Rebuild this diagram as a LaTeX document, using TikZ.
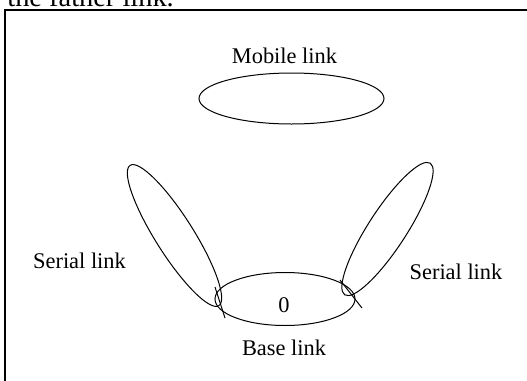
\documentclass[tikz,border=0pt]{standalone}
\usepackage{fontspec}
\setmainfont{Liberation Serif}
\usetikzlibrary{shapes.geometric}
\begin{document}
\begin{tikzpicture}[x=0.5pt,y=-0.5pt,
    link/.style={draw,ellipse,inner sep=0pt,line width=0.5pt},
    lbl/.style={inner sep=0pt,anchor=base,font=\fontsize{11.2}{13}\selectfont}]
  \useasboundingbox (0,0) rectangle (527,381);
  \draw[line width=1pt] (5,10) rectangle (545,400);
  \node[lbl,anchor=base west,font=\fontsize{14.2}{17}\selectfont] (father) at (7,6) {the father link.};
  \draw
    (291.5,98.5) node[link,minimum width=92.5pt,minimum height=25.5pt] (mobile){}
    (285,299) node[link,minimum width=70pt,minimum height=26.5pt] (base){}
    (174.5,235.5) node[link,minimum width=83pt,minimum height=19pt,rotate=-57.7] (serL){}
    (387.5,229) node[link,minimum width=78.5pt,minimum height=19pt,rotate=57] (serR){};
  \node[lbl] (mobiletxt) at (284.5,63.5) {Mobile link};
  \node[lbl] (basetxt) at (284,355) {Base link};
  \node[lbl] (zero) at (284,312) {0};
  \node[lbl] (serLtxt) at (79.5,268) {Serial link};
  \node[lbl] (serRtxt) at (456,279) {Serial link};
  \coordinate (jLa) at (215,287);
  \coordinate (jLb) at (225,318);
  \coordinate (jRa) at (340,280);
  \coordinate (jRb) at (362,308);
  \begin{scope}[line width=0.5pt]
    \draw (jLa) -- (jLb);
    \draw (jRa) -- (jRb);
  \end{scope}
\end{tikzpicture}
\end{document}
